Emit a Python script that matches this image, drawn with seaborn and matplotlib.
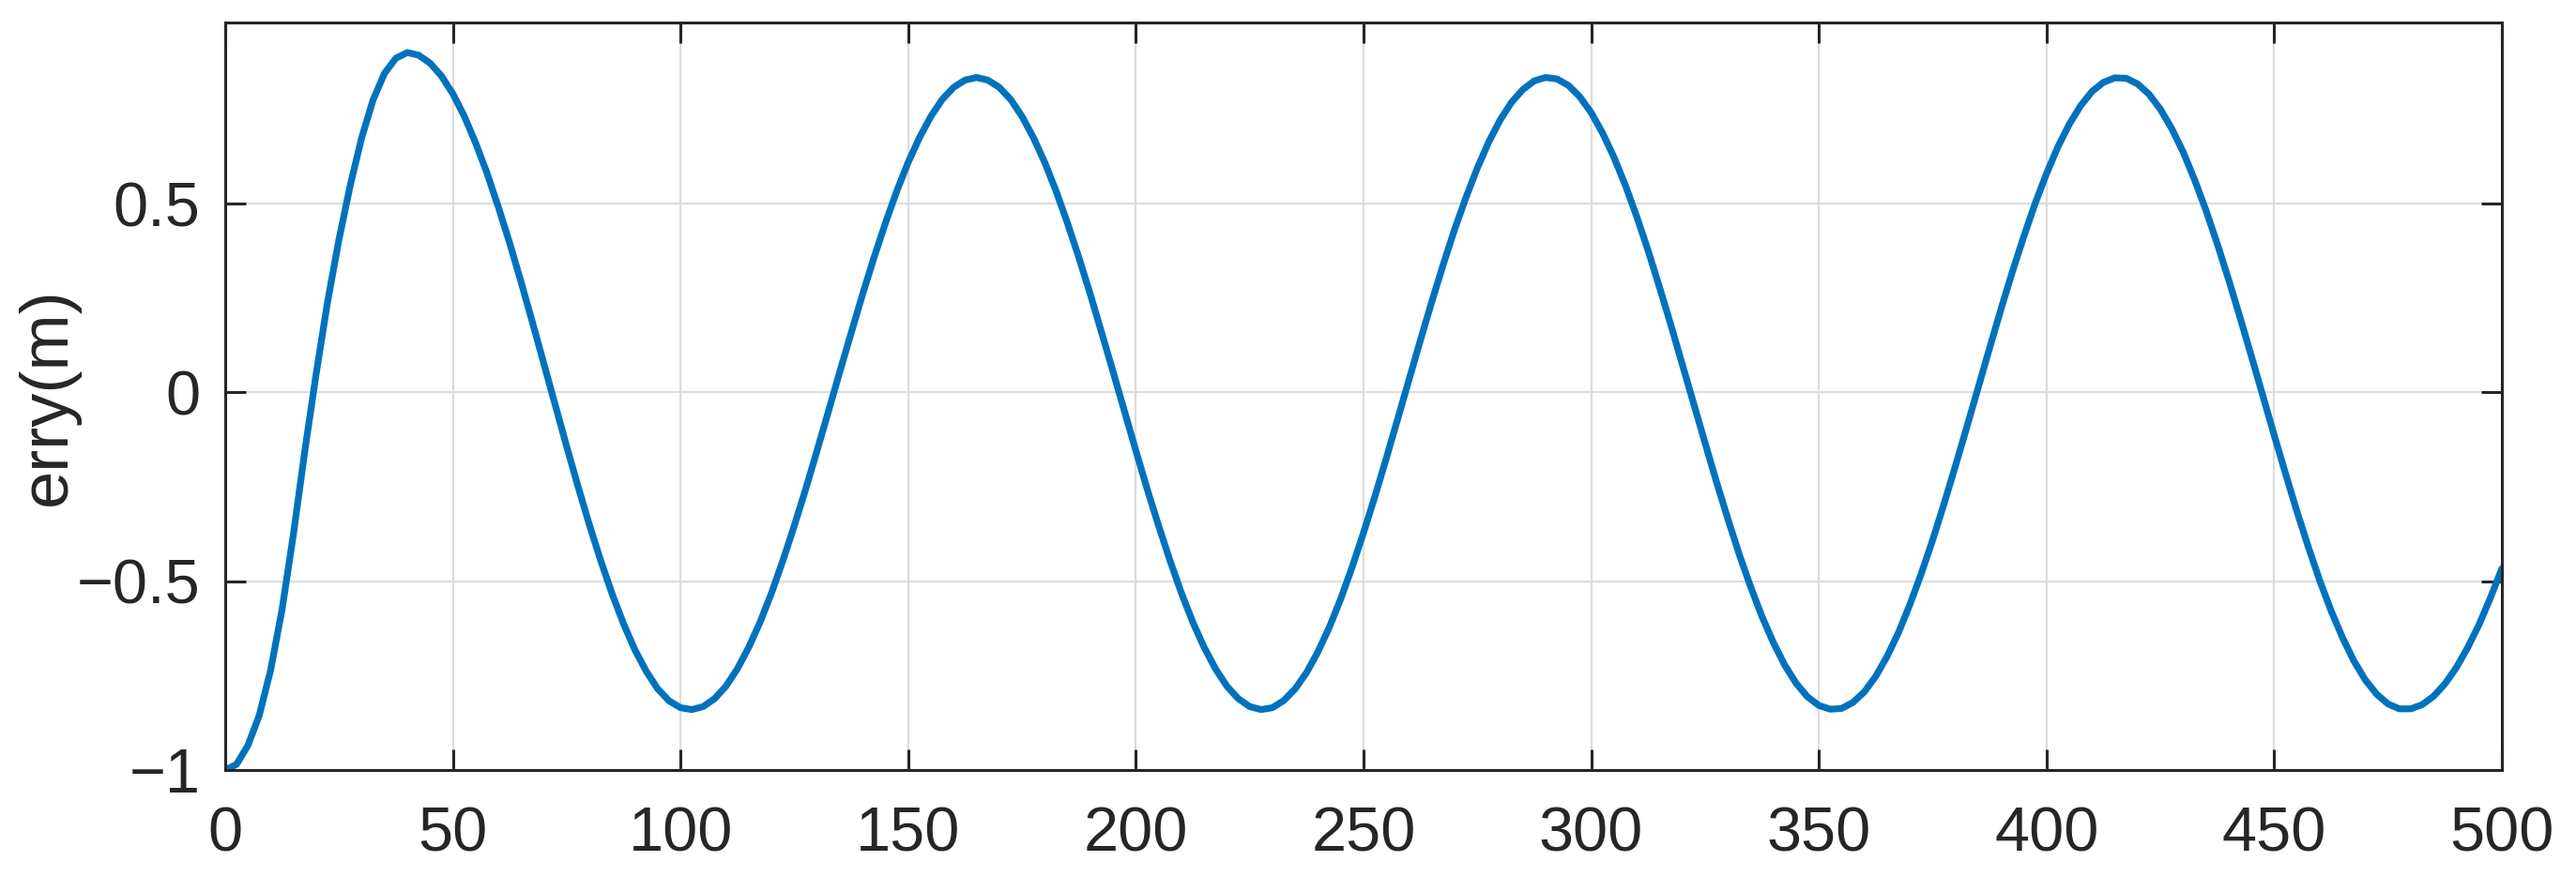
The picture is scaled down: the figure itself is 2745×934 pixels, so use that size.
import numpy as np
import pandas as pd
import matplotlib
matplotlib.use("Agg")
import matplotlib.pyplot as plt
import seaborn as sns

# values (x step of 2.5 from 0 to 500)
x_step = 2.5
y_rise = [-1.000, -0.985, -0.935, -0.855, -0.735, -0.575, -0.375, -0.155,
          0.050, 0.240, 0.405, 0.550, 0.675, 0.775, 0.845, 0.885]
y_first_fall = [0.900, 0.893, 0.872, 0.838, 0.791, 0.732, 0.661, 0.581, 0.491,
                0.395, 0.292, 0.185, 0.076, -0.034, -0.143, -0.249, -0.351,
                -0.446, -0.534, -0.613, -0.682, -0.739, -0.785, -0.817, -0.835,
                -0.840]
y_first_climb = [-0.832, -0.811, -0.778, -0.732, -0.675, -0.608, -0.531, -0.445,
                 -0.353, -0.256, -0.154, -0.050, 0.055, 0.158, 0.260, 0.357,
                 0.448, 0.533, 0.609, 0.675, 0.731, 0.776, 0.808, 0.827]
y_cycles = [0.834, 0.827, 0.808, 0.776, 0.731, 0.675, 0.609, 0.533, 0.448, 0.357,
            0.260, 0.158, 0.055, -0.050, -0.154, -0.256, -0.353, -0.445, -0.531,
            -0.608, -0.675, -0.732, -0.778, -0.811, -0.832, -0.840, -0.835, -0.816,
            -0.785, -0.742, -0.687, -0.622, -0.547, -0.463, -0.372, -0.276, -0.175,
            -0.071, 0.034, 0.138, 0.240, 0.338, 0.431, 0.516, 0.594, 0.663, 0.721,
            0.768, 0.802, 0.825, 0.834, 0.830, 0.813, 0.783, 0.741, 0.687, 0.623,
            0.549, 0.466, 0.376, 0.279, 0.179, 0.075, -0.029, -0.133, -0.236,
            -0.334, -0.428, -0.514, -0.593, -0.662, -0.722, -0.770, -0.806, -0.829,
            -0.839, -0.837, -0.821, -0.793, -0.752, -0.699, -0.636, -0.562, -0.480,
            -0.391, -0.295, -0.195, -0.092, 0.013, 0.117, 0.220, 0.319, 0.412,
            0.500, 0.579, 0.650, 0.710, 0.759, 0.797, 0.821, 0.833, 0.832, 0.817,
            0.790, 0.750, 0.699, 0.637, 0.564, 0.483, 0.394, 0.299, 0.199, 0.096,
            -0.008, -0.113, -0.215, -0.315, -0.409, -0.498, -0.578, -0.649, -0.711,
            -0.761, -0.799, -0.825, -0.838]
y_last_climb = [-0.838, -0.827, -0.805, -0.772, -0.729, -0.676, -0.615, -0.544, -0.467]

x_ticks = [0, 50, 100, 150, 200, 250, 300, 350, 400, 450, 500]
y_ticks = [-1, -0.5, 0, 0.5]
y_tick_labels = ["\u22121", "\u22120.5", "0", "0.5"]

erry = np.array(y_rise + y_first_fall + y_first_climb + y_cycles + y_last_climb)
t = np.arange(len(erry)) * x_step
df = pd.DataFrame({"t": t, "erry": erry})

sns.set_theme(style="ticks")
plt.rcParams["font.family"] = ["Liberation Sans", "DejaVu Sans"]

dark = "#262626"
fig = plt.figure(figsize=(27.45, 9.34), dpi=100)
ax = fig.add_axes([0.0874, 0.121, 0.8838, 0.8535])

sns.lineplot(data=df, x="t", y="erry", ax=ax, color="#0072BD", linewidth=5.2)

ax.set_xlim(0, 500)
ax.set_ylim(-1, 0.98)
ax.set_xticks(x_ticks)
ax.set_yticks(y_ticks)
ax.set_yticklabels(y_tick_labels)
ax.grid(True, color="#dcdcdc", linewidth=1.6)
ax.set_axisbelow(True)

for s in ax.spines.values():
    s.set_visible(True)
    s.set_color(dark)
    s.set_linewidth(2.2)

ax.tick_params(axis="both", which="major", direction="in", length=16, width=2.2,
               color=dark, labelcolor=dark, labelsize=48,
               top=True, right=True)
ax.tick_params(axis="x", pad=28)
ax.tick_params(axis="y", pad=19)

ax.set_xlabel("")
ax.set_ylabel("erry(m)", fontsize=52, color=dark)
ax.yaxis.set_label_coords(-0.064, 0.5)

fig.savefig("out.png", dpi=100)
plt.close(fig)
